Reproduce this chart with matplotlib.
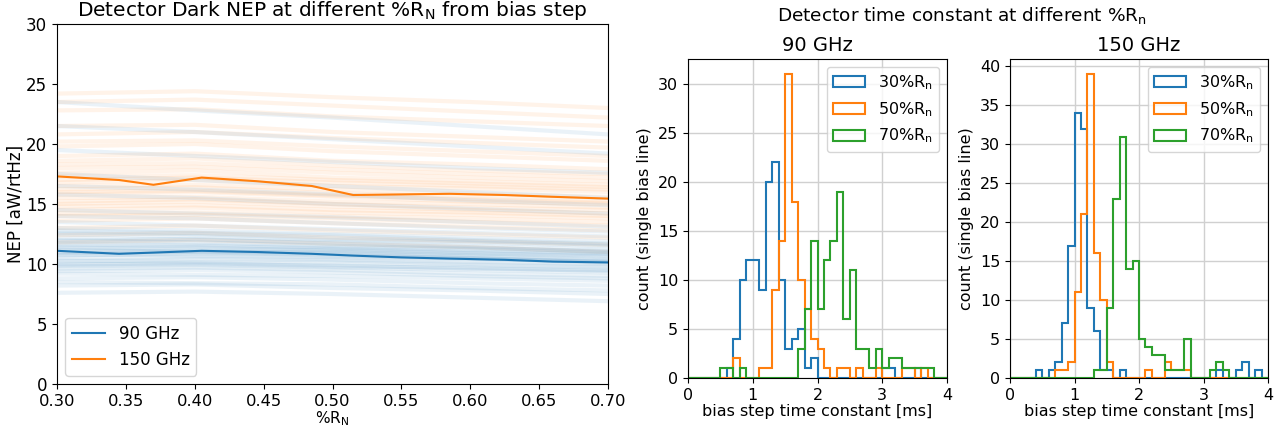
import numpy as np
import matplotlib
matplotlib.use("Agg")
import matplotlib.pyplot as plt

# --- left panel: NEP vs %Rn ---
rn_med = [0.30, 0.345, 0.37, 0.405, 0.445, 0.485, 0.515, 0.55, 0.585, 0.625, 0.66, 0.70]
nep_med_90 = [11.1, 10.85, 10.95, 11.1, 11.0, 10.85, 10.7, 10.55, 10.45, 10.35, 10.2, 10.13]
nep_med_150 = [17.3, 17.0, 16.6, 17.2, 16.9, 16.5, 15.75, 15.8, 15.85, 15.75, 15.6, 15.45]

rn_det = [0.30, 0.40, 0.50, 0.60, 0.70]
nep_det_90 = [
    [11.0, 11.1, 10.9, 10.6, 10.3], [10.5, 10.6, 10.4, 10.2, 10.0],
    [11.6, 11.5, 11.3, 11.0, 10.8], [12.2, 12.0, 11.8, 11.5, 11.2],
    [9.8, 9.9, 9.7, 9.5, 9.3], [9.4, 9.5, 9.3, 9.0, 8.8],
    [12.8, 12.6, 12.4, 12.0, 11.7], [13.5, 13.2, 12.9, 12.6, 12.3],
    [8.8, 8.9, 8.7, 8.4, 8.2], [8.2, 8.3, 8.0, 7.8, 7.5],
    [7.6, 7.7, 7.5, 7.2, 6.9], [14.5, 14.2, 13.9, 13.5, 13.1],
    [15.8, 15.5, 15.0, 14.6, 14.2], [10.2, 10.4, 10.3, 10.0, 9.8],
    [11.3, 11.4, 11.1, 10.9, 10.6], [10.8, 10.7, 10.6, 10.4, 10.2],
    [11.9, 12.1, 11.7, 11.4, 11.0], [9.9, 10.1, 9.8, 9.7, 9.4],
    [17.5, 17.0, 16.5, 16.0, 15.5], [19.5, 19.0, 18.5, 18.0, 17.6],
    [21.5, 21.0, 20.4, 19.8, 19.2], [23.5, 22.8, 22.2, 21.5, 20.8],
    [12.5, 12.3, 12.0, 11.8, 11.5], [10.0, 10.0, 9.9, 9.6, 9.5],
    [11.2, 11.0, 11.0, 10.7, 10.4], [13.0, 12.8, 12.5, 12.2, 11.9],
    [9.2, 9.1, 9.0, 8.8, 8.6], [16.5, 16.2, 15.8, 15.3, 14.9],
    [14.0, 13.8, 13.4, 13.0, 12.7], [10.7, 10.9, 10.8, 10.5, 10.1],
    [11.4, 11.2, 11.2, 10.9, 10.7], [10.3, 10.2, 10.1, 9.9, 9.7],
    [8.5, 8.4, 8.3, 8.0, 7.8], [12.0, 11.8, 11.5, 11.3, 11.1],
    [10.9, 11.0, 10.7, 10.5, 10.2], [11.7, 11.6, 11.4, 11.2, 10.9],
    [9.6, 9.7, 9.5, 9.2, 9.0], [12.6, 12.5, 12.1, 11.9, 11.6],
]
nep_det_150 = [
    [17.0, 17.2, 16.8, 16.5, 16.2], [16.2, 16.4, 15.9, 15.6, 15.3],
    [18.0, 18.1, 17.6, 17.2, 16.9], [15.5, 15.6, 15.2, 15.0, 14.7],
    [14.8, 14.9, 14.5, 14.3, 14.0], [19.0, 19.2, 18.6, 18.3, 17.9],
    [20.2, 20.3, 19.8, 19.4, 19.0], [14.2, 14.3, 14.0, 13.8, 13.5],
    [13.6, 13.8, 13.4, 13.1, 12.8], [21.5, 21.6, 21.0, 20.6, 20.2],
    [22.8, 22.9, 22.3, 21.9, 21.5], [24.2, 24.4, 23.9, 23.5, 23.0],
    [16.8, 17.0, 16.5, 16.3, 16.0], [17.6, 17.8, 17.2, 16.9, 16.6],
    [15.2, 15.4, 15.0, 14.7, 14.5], [18.6, 18.8, 18.2, 17.8, 17.5],
    [13.0, 13.2, 12.8, 12.5, 12.2], [12.4, 12.6, 12.2, 11.9, 11.6],
    [16.0, 16.1, 15.7, 15.4, 15.1], [19.8, 20.0, 19.4, 19.0, 18.6],
    [23.5, 23.7, 23.2, 22.7, 22.2], [14.5, 14.7, 14.3, 14.1, 13.8],
    [17.3, 17.4, 17.0, 16.7, 16.4], [11.8, 12.0, 11.7, 11.4, 11.0],
    [20.8, 21.0, 20.5, 20.1, 19.7], [15.8, 16.0, 15.6, 15.2, 15.0],
    [14.0, 14.1, 13.8, 13.5, 13.2], [15.0, 15.2, 14.8, 14.5, 14.2],
    [16.5, 16.6, 16.2, 15.9, 15.6], [18.3, 18.4, 17.9, 17.5, 17.2],
]

# --- histograms: counts per 0.1 ms bin, 0..4 ms ---
tau_edges = np.round(np.arange(0, 4.01, 0.1), 2)

def bins(d):
    c = np.zeros(40)
    for k, v in d.items():
        c[k] = v
    return c

cnt_90_30 = bins({6: 1, 7: 4, 8: 10, 9: 12, 10: 12, 11: 9, 12: 20, 13: 22, 14: 10,
                  15: 3, 16: 4, 17: 5, 18: 1, 19: 2, 30: 1, 31: 1, 35: 1})
cnt_90_50 = bins({7: 2, 11: 1, 12: 1, 13: 9, 14: 14, 15: 31, 16: 18, 17: 10, 18: 7,
                  19: 4, 20: 3, 21: 1, 23: 1, 24: 1, 26: 1, 29: 1, 33: 1, 34: 1, 36: 1})
cnt_90_70 = bins({5: 1, 6: 1, 8: 1, 17: 3, 18: 7, 19: 14, 20: 7, 21: 12, 22: 14, 23: 19,
                  24: 6, 25: 11, 26: 3, 27: 3, 28: 1, 29: 3, 30: 1, 31: 2, 32: 2,
                  33: 1, 34: 1, 35: 1, 36: 1, 37: 1})
cnt_150_30 = bins({4: 1, 6: 1, 7: 2, 8: 7, 9: 17, 10: 34, 11: 32, 12: 9, 13: 6, 14: 1,
                   15: 1, 17: 1, 32: 1, 35: 1, 36: 2, 38: 1})
cnt_150_50 = bins({7: 1, 8: 1, 9: 2, 10: 11, 11: 21, 12: 39, 13: 16, 14: 10, 15: 2,
                   21: 1, 24: 2, 25: 1, 26: 1, 27: 1})
cnt_150_70 = bins({13: 1, 14: 1, 15: 9, 16: 23, 17: 31, 18: 14, 19: 15, 20: 5, 21: 4,
                   22: 3, 23: 3, 24: 1, 25: 1, 26: 1, 27: 5, 31: 1, 32: 2, 33: 1})

hist_labels = ["30%R$_\\mathrm{n}$", "50%R$_\\mathrm{n}$", "70%R$_\\mathrm{n}$"]
c_blue, c_orange, c_green = "#1f77b4", "#ff7f0e", "#2ca02c"

W, H = 1283, 429
fig = plt.figure(figsize=(W / 100, H / 100), dpi=100)

ax0 = fig.add_axes([57 / W, 1 - 384 / H, 551 / W, 360 / H])
for row in nep_det_150:
    ax0.plot(rn_det, row, color=c_orange, alpha=0.09, lw=3)
for row in nep_det_90:
    ax0.plot(rn_det, row, color=c_blue, alpha=0.09, lw=3)
ax0.plot(rn_med, nep_med_90, color=c_blue, lw=1.5, label="90 GHz")
ax0.plot(rn_med, nep_med_150, color=c_orange, lw=1.5, label="150 GHz")
ax0.set_xlim(0.3, 0.7)
ax0.set_ylim(0, 30)
ax0.set_xlabel("%R$_\\mathrm{N}$", fontsize=11)
ax0.set_ylabel("NEP [aW/rtHz]", fontsize=12)
ax0.xaxis.set_label_coords(0.5, -0.071)
ax0.yaxis.set_label_coords(-0.058, 0.5)
ax0.set_title("Detector Dark NEP at different %R$_\\mathrm{N}$ from bias step", fontsize=14.5)
ax0.tick_params(axis="y", labelsize=12)
ax0.tick_params(axis="x", labelsize=11.8, pad=4)
ax0.legend(loc="lower left", fontsize=12)

def hist_panel(rect, counts, title):
    ax = fig.add_axes(rect)
    for cnt, col, lab in zip(counts, [c_blue, c_orange, c_green], hist_labels):
        ax.hist(tau_edges[:-1], bins=tau_edges, weights=cnt, histtype="step",
                color=col, lw=1.5, label=lab)
    ax.set_xlim(0, 4)
    ax.grid(True, color="#d0d0d0", lw=1)
    ax.set_axisbelow(True)
    ax.set_title(title, fontsize=14)
    ax.set_xlabel("bias step time constant [ms]", fontsize=11.5, labelpad=1)
    ax.set_ylabel("count (single bias line)", fontsize=11.5)
    ax.tick_params(labelsize=11.5)
    ax.legend(loc="upper right", fontsize=11.5)
    return ax

hist_panel([688 / W, 1 - 378 / H, 259 / W, 319 / H], [cnt_90_30, cnt_90_50, cnt_90_70], "90 GHz")
hist_panel([1010 / W, 1 - 378 / H, 258 / W, 319 / H], [cnt_150_30, cnt_150_50, cnt_150_70], "150 GHz")
fig.text(962 / W, 1 - 16 / H, "Detector time constant at different %R$_\\mathrm{n}$",
         ha="center", va="center", fontsize=13.3)

fig.savefig("out.png", dpi=100)
